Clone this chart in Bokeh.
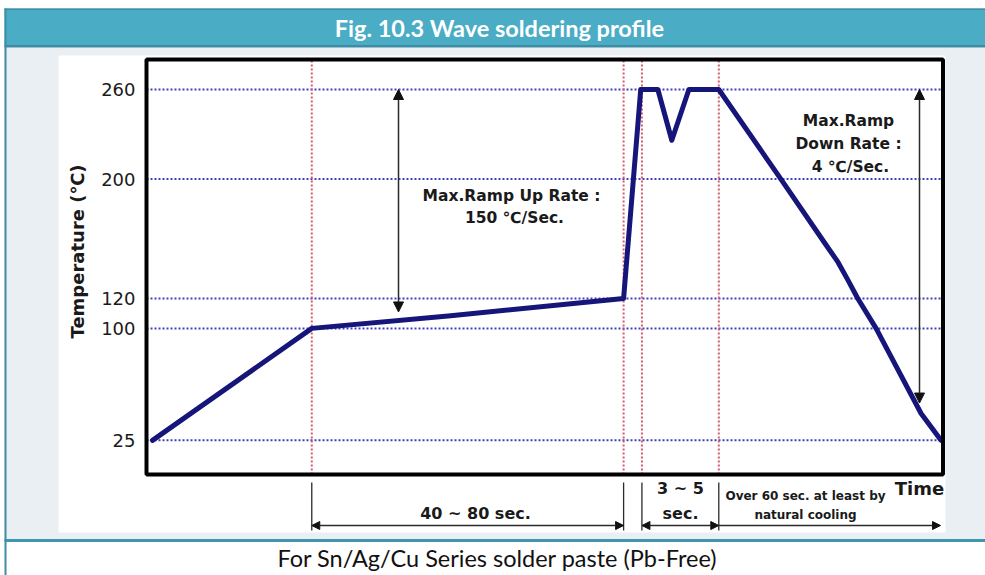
import math
from bokeh.plotting import figure
from bokeh.models import Range1d, Label, Arrow, NormalHead
from bokeh.core.properties import value
from bokeh.embed import file_html
from bokeh.resources import INLINE

# ---------------- data ----------------
time_s = [1.5, 41.5, 76.4, 119.8, 124.1, 128.4, 131.9, 136.2, 143.7, 159.3, 170.6, 173.6, 176.1, 178.6, 183.2, 194.5, 199.5]
temp_c = [25, 100, 108.5, 120, 260, 260, 226, 260, 260, 200, 156, 144.5, 132.5, 120, 100, 43, 25]
phase_bounds = [41.5, 119.8, 124.4, 143.7]
temp_ticks = [25, 100, 120, 200, 260]
tick_labels = ["25", "100", "120", "200", "260"]
ramp_up_arrow_temps = [260, 111]
ramp_down_arrow_temps = [260, 50]
chart_time_range = [0.0, 200.0]
chart_temp_range = [2.13, 280.1]

title_text = "Fig. 10.3 Wave soldering profile"
caption_text = "For Sn/Ag/Cu Series solder paste (Pb-Free)"

# ---------------- geometry (canvas pixels) ----------------
W, H = 985, 575
BL, BR, BT, BB = 146, 942.5, 59, 474   # black chart box on the canvas
CX0, CX1 = chart_time_range
CY0, CY1 = chart_temp_range


def X(px):
    return CX0 + (px - BL) * (CX1 - CX0) / (BR - BL)


def Y(py):
    return CY0 + (BB - py) * (CY1 - CY0) / (BB - BT)


p = figure(width=W, height=H, x_range=Range1d(X(0), X(W)), y_range=Range1d(Y(H), Y(0)),
           output_backend="svg", toolbar_location=None, title=None,
           x_axis_location=None, y_axis_location=None,
           min_border_left=0, min_border_right=0, min_border_top=0, min_border_bottom=0,
           border_fill_color="white", background_fill_color="white",
           outline_line_color=None)
p.xgrid.visible = False
p.ygrid.visible = False


def box(l, r, t, b, color):
    p.quad(left=X(l), right=X(r), top=Y(t), bottom=Y(b),
           fill_color=color, line_color=None)


# page decorations
box(4, W, 47, 540, "#E9EFF3")       # light body
box(58, 945, 55, 532, "white")      # chart picture area
box(4, W, 8, 46, "#4BACC6")         # header bar
box(4, W, 8, 9.5, "#3C8DA5")        # header top line
box(4, W, 44.5, 47, "#3E8CA4")      # header bottom line
box(4, W, 538.5, 541.5, "#3F95AE")  # caption separator
box(4, 6, 8, H, "#3C8DA5")          # left border

# dotted guide lines
p.segment(x0=CX0, x1=CX1, y0=temp_ticks, y1=temp_ticks,
          line_color="#4040b8", line_width=2, line_dash="2 2")
p.segment(x0=phase_bounds, x1=phase_bounds, y0=CY0, y1=CY1,
          line_color="#d85a6e", line_width=2, line_dash="2 2")

# profile curve
p.line(time_s, temp_c, line_width=5, line_color="#15157a", line_join="round", line_cap="round")

# black chart box
p.quad(left=CX0, right=CX1, bottom=CY0, top=CY1, fill_color=None,
       line_color="black", line_width=4)

# temperature tick labels
p.text(x=[X(135)] * len(temp_ticks), y=temp_ticks, text=tick_labels,
       text_align="right", text_baseline="middle", text_color="#1a1a1a",
       text_font=value("DejaVu Sans"), text_font_size=value("18px"))


def lab(text, px, py, size, bold=True, font="DejaVu Sans", color="#1a1a1a", angle=0.0):
    p.add_layout(Label(x=X(px), y=Y(py), text=text, text_font=font, text_font_size=size,
                       text_font_style="bold" if bold else "normal", text_color=color,
                       text_align="center", text_baseline="middle", angle=angle))


def head(sz):
    return NormalHead(size=sz, fill_color="#111111", line_color="#111111", line_width=1)


def arrow(x0, y0, x1, y1, start=True, end=True, sz=10, width=1.5):
    p.add_layout(Arrow(x_start=x0, y_start=y0, x_end=x1, y_end=y1,
                       start=head(sz) if start else None, end=head(sz) if end else None,
                       line_color="#2a2a2a", line_width=width))


# header / caption
lab(title_text, 499, 27, "23.5px", font="Lato", color="white")
lab(caption_text, 497, 557, "23.5px", bold=False, font="Lato", color="#111111")

# axis title
lab("Temperature (\u2103)", 77, 251, "18px", angle=math.pi / 2)

# annotations inside the chart box
lab("Max.Ramp Up Rate :", 511, 195, "15.5px")
lab("150 \u2103/Sec.", 514, 217, "15.5px")
lab("Max.Ramp", 848, 120, "15.5px")
lab("Down Rate :", 848, 143, "15.5px")
lab("4 \u2103/Sec.", 850, 166, "15.5px")

arrow(X(398), ramp_up_arrow_temps[0], X(398), ramp_up_arrow_temps[1])
arrow(X(919), ramp_down_arrow_temps[0], X(919), ramp_down_arrow_temps[1])

# time dimension lines below the chart box
for b in phase_bounds:
    arrow(b, Y(482), b, Y(530), start=False, end=False, width=1.3)
arrow(phase_bounds[0], Y(525), phase_bounds[1], Y(525), sz=8)
arrow(phase_bounds[2], Y(525), phase_bounds[3], Y(525), sz=8)
arrow(phase_bounds[3], Y(525), X(940), Y(525), start=False, sz=8)

lab("40 ~ 80 sec.", 475, 513, "16px")
lab("3 ~ 5", 680, 488, "16px")
lab("sec.", 680, 513, "16px")
lab("Over 60 sec. at least by", 805, 495, "12px")
lab("natural cooling", 805, 514, "12px")
lab("Time", 919, 488, "18px")

open("out.html", "w").write(file_html(p, INLINE))
